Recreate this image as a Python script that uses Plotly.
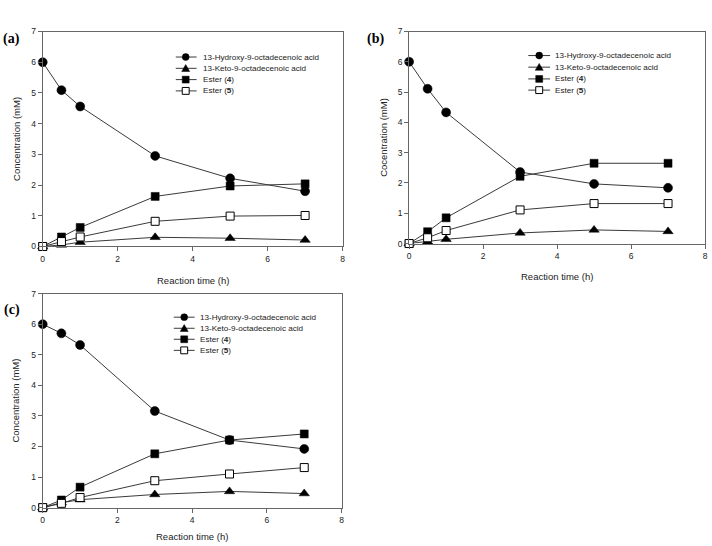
import plotly.graph_objects as go

# ---------------- data ----------------
time_h = [0, 0.5, 1, 3, 5, 7]

a_hydroxy = [6.0, 5.09, 4.56, 2.95, 2.22, 1.80]
a_keto = [0.0, 0.05, 0.14, 0.30, 0.27, 0.21]
a_ester4 = [0.0, 0.31, 0.62, 1.63, 1.97, 2.04]
a_ester5 = [0.0, 0.16, 0.31, 0.82, 0.99, 1.01]

b_hydroxy = [6.0, 5.11, 4.33, 2.36, 1.97, 1.84]
b_keto = [0.0, 0.06, 0.14, 0.35, 0.45, 0.40]
b_ester4 = [0.0, 0.39, 0.85, 2.22, 2.65, 2.65]
b_ester5 = [0.0, 0.19, 0.43, 1.11, 1.32, 1.32]

c_hydroxy = [6.0, 5.70, 5.32, 3.16, 2.21, 1.92]
c_keto = [0.0, 0.16, 0.26, 0.43, 0.53, 0.46]
c_ester4 = [0.0, 0.25, 0.67, 1.76, 2.21, 2.41]
c_ester5 = [0.0, 0.14, 0.33, 0.88, 1.10, 1.31]

series_names = ["13-Hydroxy-9-octadecenoic acid", "13-Keto-9-octadecenoic acid",
                "Ester (<b>4</b>)", "Ester (<b>5</b>)"]
panel_labels = ["(a)", "(b)", "(c)"]
y_titles = ["Concentration (mM)", "Cocentration (mM)", "Concentration (mM)"]
x_title = "Reaction time (h)"

# ---------------- layout helpers ----------------
W, H = 712, 546
def px(x):
    return x / W
def py(y):
    return 1 - y / H

LINE = "#3a3a3a"
AXIS = "#666666"
SANS = "Liberation Sans, Arial, sans-serif"
SERIF = "Liberation Serif, Times New Roman, serif"

# plot-area boxes in pixels: (left, right, top, bottom)
boxes = [(41, 343, 27, 246), (410, 708, 27, 243), (41, 342, 294, 512)]
xtitle_y = [281, 277, 541]
ytitle_x = [14, 384, 14]
label_pos = [(10, 35), (376, 35), (10, 311)]
legend_rows = [[53, 64.5, 76, 87.5], [51.5, 63.3, 75.3, 86.7], [318, 329.3, 340.5, 351.8]]
legend_x = [(175, 185, 196, 200), (530, 541, 552, 555), (173, 183.5, 194, 197)]

styles = [
    dict(symbol="circle", size=9, color="black", line=dict(color="black", width=0.5)),
    dict(symbol="triangle-up", size=9, color="black", line=dict(color="black", width=0.5)),
    dict(symbol="square", size=8, color="black", line=dict(color="black", width=0.5)),
    dict(symbol="square", size=8, color="white", line=dict(color="black", width=1)),
]

panels = [
    [a_hydroxy, a_keto, a_ester4, a_ester5],
    [b_hydroxy, b_keto, b_ester4, b_ester5],
    [c_hydroxy, c_keto, c_ester4, c_ester5],
]

fig = go.Figure()
annotations = []
shapes = []

for i, data in enumerate(panels):
    ax = "" if i == 0 else str(i + 1)
    for j, ys in enumerate(data):
        fig.add_trace(go.Scatter(
            x=time_h, y=ys, mode="lines+markers",
            xaxis="x" + ax, yaxis="y" + ax,
            line=dict(color=LINE, width=1),
            marker=styles[j], cliponaxis=False, showlegend=False,
            name=series_names[j],
        ))
    l, r, t, b = boxes[i]
    axis_common = dict(showline=True, mirror=True, linecolor=AXIS, linewidth=1,
                       ticks="outside", ticklen=4, tickcolor=AXIS, tickwidth=1,
                       showgrid=False, zeroline=False,
                       tickfont=dict(family=SANS, size=8.5, color="#222"))
    fig.update_layout(**{
        "xaxis" + ax: dict(domain=[px(l), px(r)], range=[0, 8], dtick=2,
                           anchor="y" + ax, **axis_common),
        "yaxis" + ax: dict(domain=[py(b), py(t)], range=[0, 7], dtick=1,
                           anchor="x" + ax, **axis_common),
    })
    # axis titles
    annotations.append(dict(x=px((l + r) / 2), y=py(xtitle_y[i]), xref="paper", yref="paper",
                            text=x_title, showarrow=False, xanchor="center", yanchor="middle",
                            font=dict(family=SANS, size=9.5, color="#222")))
    annotations.append(dict(x=px(ytitle_x[i]), y=py((t + b) / 2), xref="paper", yref="paper",
                            text=y_titles[i], showarrow=False, textangle=-90,
                            xanchor="center", yanchor="middle",
                            font=dict(family=SANS, size=9.5, color="#222")))
    # panel label
    lx, ly = label_pos[i]
    annotations.append(dict(x=px(lx), y=py(ly), xref="paper", yref="paper",
                            text="<b>" + panel_labels[i] + "</b>", showarrow=False,
                            xanchor="center", yanchor="middle",
                            font=dict(family=SERIF, size=14, color="black")))
    # legend (manual, compact spacing)
    x0, xm, x1, xt = legend_x[i]
    for j, yr in enumerate(legend_rows[i]):
        shapes.append(dict(type="line", xref="paper", yref="paper",
                           x0=px(x0), x1=px(x1), y0=py(yr), y1=py(yr),
                           line=dict(color=LINE, width=1)))
        s = 3.5
        if j == 0:
            shapes.append(dict(type="circle", xref="paper", yref="paper",
                               x0=px(xm - s), x1=px(xm + s), y0=py(yr + s), y1=py(yr - s),
                               fillcolor="black", line=dict(color="black", width=0.5)))
        elif j == 1:
            path = "M {},{} L {},{} L {},{} Z".format(
                px(xm - 4), py(yr + 3.2), px(xm + 4), py(yr + 3.2), px(xm), py(yr - 3.8))
            shapes.append(dict(type="path", xref="paper", yref="paper", path=path,
                               fillcolor="black", line=dict(color="black", width=0.5)))
        else:
            shapes.append(dict(type="rect", xref="paper", yref="paper",
                               x0=px(xm - s), x1=px(xm + s), y0=py(yr + s), y1=py(yr - s),
                               fillcolor="black" if j == 2 else "white",
                               line=dict(color="black", width=1 if j == 3 else 0.5)))
        annotations.append(dict(x=px(xt), y=py(yr), xref="paper", yref="paper",
                                text=series_names[j], showarrow=False,
                                xanchor="left", yanchor="middle",
                                font=dict(family=SANS, size=8.1, color="#222")))

fig.update_layout(
    width=W, height=H,
    margin=dict(l=0, r=0, t=0, b=0),
    paper_bgcolor="white", plot_bgcolor="white",
    showlegend=False,
    annotations=annotations, shapes=shapes,
)

fig.write_html("out.html")
